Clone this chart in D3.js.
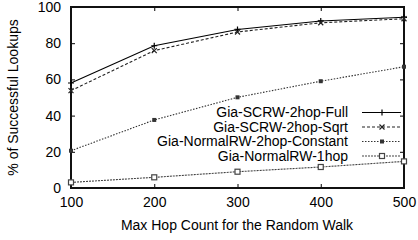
<!DOCTYPE html>
<html>
<head>
<meta charset="utf-8">
<script src="https://cdn.jsdelivr.net/npm/d3@7"></script>
<style>
  body { margin: 0; background: #fff; }
  svg { font-family: "Liberation Sans", Arial, sans-serif; }
</style>
</head>
<body>
<div id="chart"></div>
<script>
const WIDTH = 418;
const HEIGHT = 240;
const MARGIN = { left: 71, right: 14, top: 7, bottom: 52 };

// data
const hops = [100, 200, 300, 400, 500];
const full = [58, 78.6, 87.6, 92.3, 94.3];
const sqrt = [53.8, 75.9, 86.2, 91.3, 93.5];
const constant = [20.6, 37.6, 50.1, 59, 67];
const oneHop = [3.1, 5.9, 9, 11.6, 14.7];
const seriesNames = ["Gia-SCRW-2hop-Full", "Gia-SCRW-2hop-Sqrt", "Gia-NormalRW-2hop-Constant", "Gia-NormalRW-1hop"];
const yTicks = [0, 20, 40, 60, 80, 100];

const series = [
  { name: seriesNames[0], values: full, dash: null, color: "#000", marker: "plus" },
  { name: seriesNames[1], values: sqrt, dash: "3,2", color: "#222", marker: "cross" },
  { name: seriesNames[2], values: constant, dash: "1.5,1.5", color: "#333", marker: "filled" },
  { name: seriesNames[3], values: oneHop, dash: "2,1", color: "#444", marker: "open" }
];

const svg = d3.select("#chart").append("svg")
  .attr("width", WIDTH).attr("height", HEIGHT);

const x = d3.scaleLinear().domain([100, 500]).range([MARGIN.left, WIDTH - MARGIN.right]);
const y = d3.scaleLinear().domain([0, 100]).range([HEIGHT - MARGIN.bottom, MARGIN.top]);

// ticks inward on all four sides
const tickLen = 4;
svg.append("g").attr("transform", `translate(0,${HEIGHT - MARGIN.bottom})`)
  .call(d3.axisBottom(x).tickValues(hops).tickSize(-tickLen).tickPadding(9).tickFormat(d3.format("d")))
  .call(g => g.select(".domain").remove());
svg.append("g").attr("transform", `translate(0,${MARGIN.top})`)
  .call(d3.axisTop(x).tickValues(hops).tickSize(-tickLen).tickFormat(""))
  .call(g => g.select(".domain").remove());
svg.append("g").attr("transform", `translate(${MARGIN.left},0)`)
  .call(d3.axisLeft(y).tickValues(yTicks).tickSize(-tickLen).tickPadding(10))
  .call(g => g.select(".domain").remove());
svg.append("g").attr("transform", `translate(${WIDTH - MARGIN.right},0)`)
  .call(d3.axisRight(y).tickValues(yTicks).tickSize(-tickLen).tickFormat(""))
  .call(g => g.select(".domain").remove());

svg.selectAll(".tick text").attr("font-size", 14).attr("fill", "#000")
  .attr("font-family", "Liberation Sans, Arial, sans-serif");
svg.selectAll(".tick line").attr("stroke", "#000");

svg.append("rect")
  .attr("x", MARGIN.left).attr("y", MARGIN.top)
  .attr("width", WIDTH - MARGIN.left - MARGIN.right)
  .attr("height", HEIGHT - MARGIN.top - MARGIN.bottom)
  .attr("fill", "none").attr("stroke", "#111").attr("stroke-width", 2);

function drawMarker(g, type, cx, cy, color) {
  if (type == "plus") {
    g.append("path").attr("d", `M${cx - 3},${cy}H${cx + 3}M${cx},${cy - 3}V${cy + 3}`)
      .attr("stroke", color).attr("stroke-width", 1.2);
  } else if (type == "cross") {
    g.append("path").attr("d", `M${cx - 2.5},${cy - 2.5}L${cx + 2.5},${cy + 2.5}M${cx - 2.5},${cy + 2.5}L${cx + 2.5},${cy - 2.5}`)
      .attr("stroke", color).attr("stroke-width", 1.2);
  } else if (type == "filled") {
    g.append("rect").attr("x", cx - 2).attr("y", cy - 2).attr("width", 4).attr("height", 4).attr("fill", color);
  } else {
    g.append("rect").attr("x", cx - 2.5).attr("y", cy - 2.5).attr("width", 5).attr("height", 5)
      .attr("fill", "#fff").attr("stroke", color).attr("stroke-width", 1.2);
  }
}

const line = d3.line().x((d, i) => x(hops[i])).y(d => y(d));
const plot = svg.append("g");
series.forEach(s => {
  plot.append("path").datum(s.values)
    .attr("fill", "none").attr("stroke", s.color).attr("stroke-width", 1.1)
    .attr("stroke-dasharray", s.dash).attr("d", line);
  s.values.forEach((v, i) => drawMarker(plot, s.marker, x(hops[i]), y(v), s.color));
});

// legend
const legend = svg.append("g");
series.forEach((s, i) => {
  const ly = 112.5 + i * 14.5;
  legend.append("text").attr("x", 348).attr("y", ly).attr("dy", "0.35em")
    .attr("text-anchor", "end").attr("font-size", 14).text(s.name);
  legend.append("line").attr("x1", 362).attr("x2", 401).attr("y1", ly).attr("y2", ly)
    .attr("stroke", s.color).attr("stroke-width", 1.1).attr("stroke-dasharray", s.dash);
  drawMarker(legend, s.marker, 382, ly, s.color);
});

svg.append("text")
  .attr("x", (MARGIN.left + WIDTH - MARGIN.right) / 2 - 0.5).attr("y", 229.5)
  .attr("text-anchor", "middle").attr("font-size", 14)
  .text("Max Hop Count for the Random Walk");

svg.append("text")
  .attr("transform", "rotate(-90)")
  .attr("x", -(MARGIN.top + HEIGHT - MARGIN.bottom) / 2).attr("y", 18)
  .attr("text-anchor", "middle").attr("font-size", 14)
  .text("% of Successful Lookups");
</script>
</body>
</html>
